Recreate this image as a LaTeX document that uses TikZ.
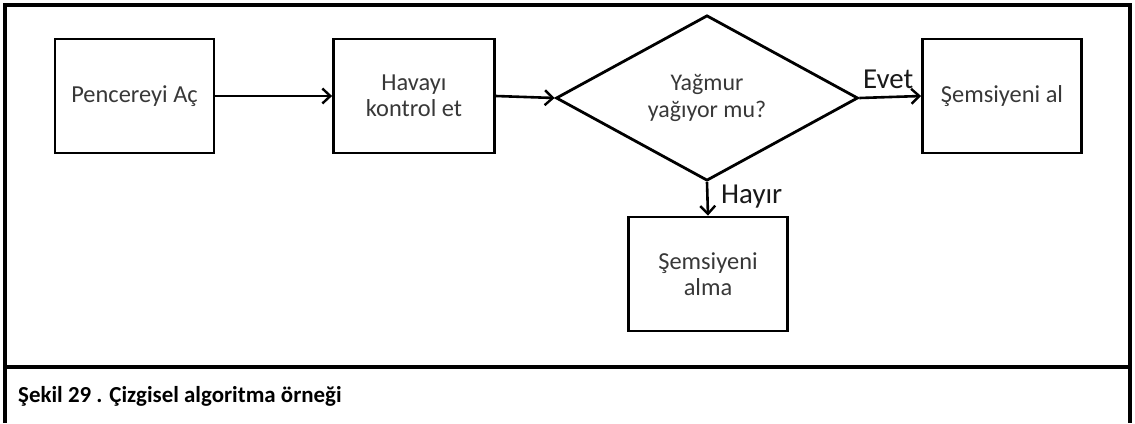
\documentclass[tikz,border=0pt]{standalone}
\usepackage{fontspec}
\setmainfont{Carlito}
\usetikzlibrary{arrows.meta,shapes.geometric}
\begin{document}
\begin{tikzpicture}[x=1bp,y=-1bp,
  stepbox/.style={draw, line width=2.8bp, minimum width=159bp, minimum height=114bp,
    inner sep=0pt, align=center, text=black!78,
    font=\fontsize{24.5}{26}\selectfont},
  decision/.style={diamond, draw, line width=2.8bp, minimum width=302bp,
    minimum height=150bp, inner sep=0pt, align=center, text=black!78,
    font=\fontsize{24}{27}\selectfont},
  flow/.style={line width=2.6bp, -{Straight Barb[length=8bp,width=15bp,line width=2.4bp]}},
  lbl/.style={font=\fontsize{29}{31}\selectfont, inner sep=0pt, text=black!90},
  frame/.style={line width=3.4bp}]
  \useasboundingbox (0,0) rectangle (1135,423);
  \fill[white] (0,0) rectangle (1135,423);

  % outer frame and caption separator
  \draw[frame] (5,423) -- (5,5) -- (1130,5) -- (1130,423);
  \draw[frame] (5,367) -- (1130,367);

  % flowchart steps
  \node[stepbox] (ac) at (134.5,96) {Pencereyi Aç};
  \node[stepbox, minimum width=161bp] (kontrol) at (414,96) {Havayı\\kontrol et};
  \node[decision] (yagmur) at (707,98) {Yağmur\\yağıyor mu?};
  \node[stepbox] (al) at (1002,96) {Şemsiyeni al};
  \node[stepbox] (alma) at (708,274) {Şemsiyeni\\alma};

  % connectors
  \draw[flow] (ac.east) -- (kontrol.west);
  \draw[flow] (kontrol.east) -- (yagmur.west);
  \draw[flow] (yagmur.east) -- (al.west);
  \draw[flow] (yagmur.south) -- (alma.north);

  % branch labels
  \node[lbl, anchor=base west] (evet) at (863,88) {Evet};
  \node[lbl, anchor=base west] (hayir) at (721,203) {Hayır};

  % caption
  \node[anchor=base west, inner sep=0pt, font=\bfseries\fontsize{23}{25}\selectfont]
    (caption) at (18,402) {Şekil 29 . Çizgisel algoritma örneği};
\end{tikzpicture}
\end{document}
